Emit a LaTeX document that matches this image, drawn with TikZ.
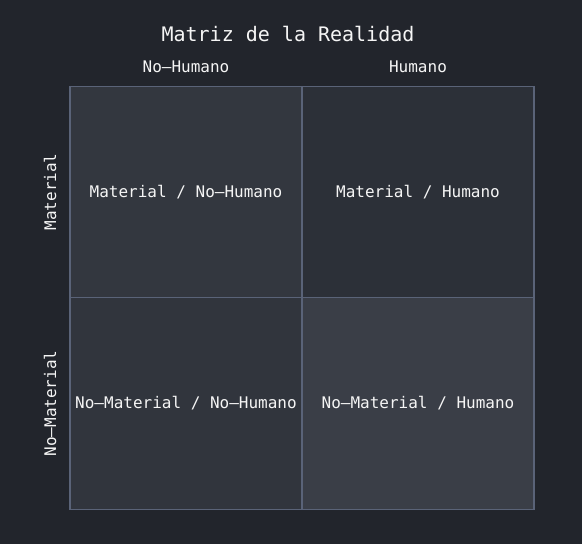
\documentclass[tikz,border=0pt]{standalone}
\usepackage{fontspec}
\setmonofont{DejaVu Sans Mono}
\usetikzlibrary{positioning}

\definecolor{fondo}{HTML}{22252C}
\definecolor{borde}{HTML}{5A6378}
\definecolor{celdaA}{HTML}{33373F}
\definecolor{celdaB}{HTML}{2C3038}
\definecolor{celdaC}{HTML}{31353D}
\definecolor{celdaD}{HTML}{3A3E47}
\definecolor{texto}{HTML}{F5F5F5}

\begin{document}
\begin{tikzpicture}[
    x=1pt,
    y=1pt,
    celda/.style={
        rectangle,
        draw=borde,
        line width=1.4pt,
        minimum width=232pt,
        minimum height=211.5pt,
        inner sep=0pt,
        text=texto,
        font=\ttfamily\fontsize{16}{18}\selectfont
    },
    cabecera/.style={
        text=texto,
        font=\ttfamily\fontsize{16}{18}\selectfont
    },
    titulo/.style={
        text=texto,
        font=\ttfamily\fontsize{20}{24}\selectfont
    }
]

\fill[fondo] (0,0) rectangle (582,544);
\useasboundingbox (0,0) rectangle (582,544);

\node[titulo] (tit) at (288,510) {Matriz de la Realidad};

\node[cabecera] (cnh) at (186,477) {No–Humano};
\node[cabecera] (ch) at (418,477) {Humano};

\node[celda, fill=celdaA] (mnh) at (186,352) {Material / No–Humano};
\node[celda, fill=celdaB] (mh) at (418,352) {Material / Humano};
\node[celda, fill=celdaC] (nmnh) at (186,140.5) {No–Material / No–Humano};
\node[celda, fill=celdaD] (nmh) at (418,140.5) {No–Material / Humano};

\node[cabecera, rotate=90] (fm) at (50,352) {Material};
\node[cabecera, rotate=90] (fnm) at (50,140.5) {No–Material};

\end{tikzpicture}
\end{document}
